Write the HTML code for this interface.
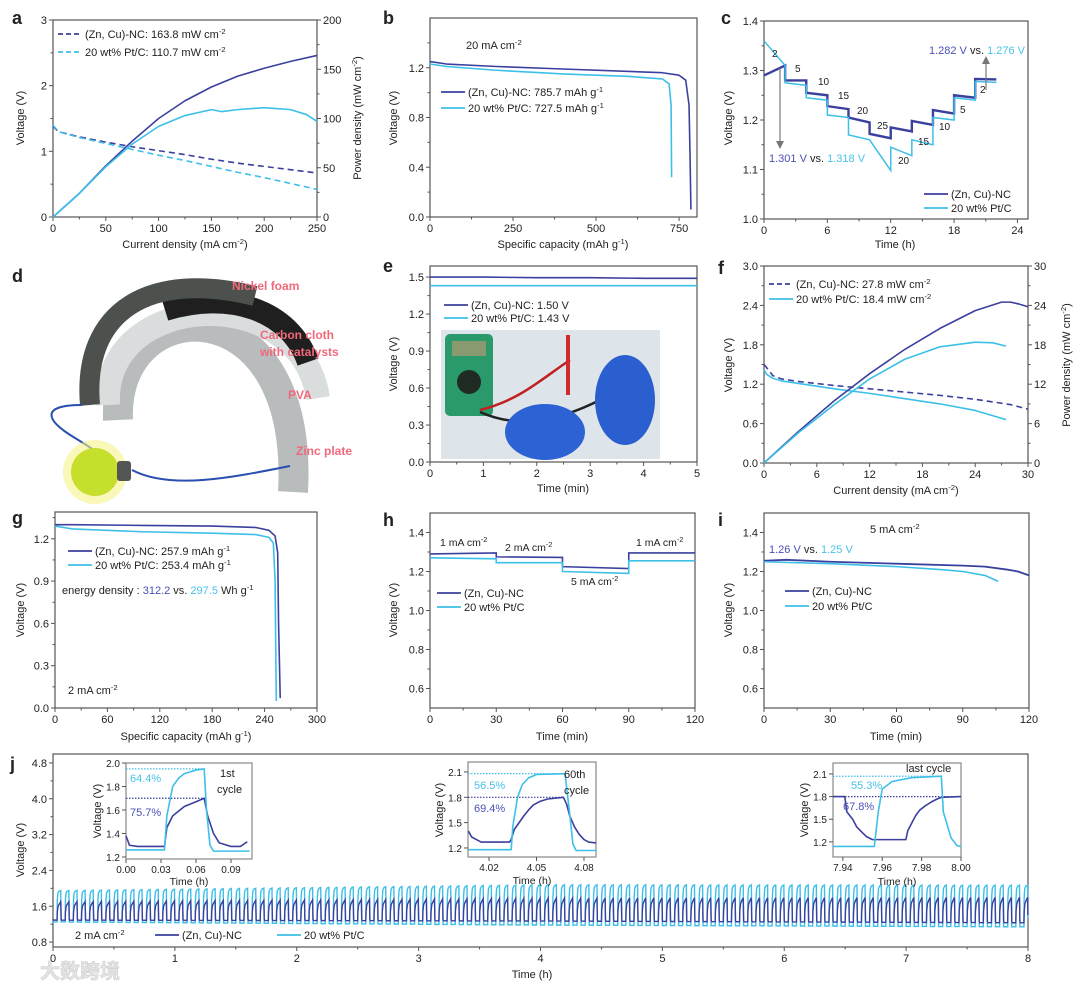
<!DOCTYPE html>
<html><head><meta charset="utf-8">
<style>body{margin:0;background:#fff}svg{display:block;font-family:"Liberation Sans","Noto Sans CJK SC",sans-serif}</style>
</head><body>
<svg id="fig" width="1080" height="991" viewBox="0 0 1080 991">
  <rect x="0" y="0" width="1080" height="991" fill="#fff"/>
  <g>
    <path d="M118 420 C112 290, 305 280, 293 492" fill="none" stroke="#b8bcbc" stroke-width="30"/>
    <path d="M108 405 C102 290, 300 280, 318 398" fill="none" stroke="#dadddd" stroke-width="24"/>
    <path d="M165 310 C230 290, 290 310, 308 362" fill="none" stroke="#1f1f1f" stroke-width="22"/>
    <path d="M90 405 C82 310, 150 270, 255 296" fill="none" stroke="#4d514d" stroke-width="20"/>
    <path d="M82 405 C40 405, 45 420, 75 438 C95 450, 105 458, 118 466" fill="none" stroke="#2a4fb0" stroke-width="2"/>
    <path d="M132 470 C170 490, 230 478, 290 466" fill="none" stroke="#2a4fb0" stroke-width="2"/>
    <circle cx="95" cy="472" r="32" fill="#f6f38a" opacity="0.6"/>
    <circle cx="95" cy="472" r="24" fill="#c6de2c"/>
    <rect x="117" y="461" width="14" height="20" rx="3" fill="#555"/>
    <g font-weight="bold" font-size="12" fill="#f0697b">
      <text x="232" y="290">Nickel foam</text>
      <text x="260" y="339">Carbon cloth</text>
      <text x="260" y="356">with catalysts</text>
      <text x="288" y="399">PVA</text>
      <text x="296" y="455">Zinc plate</text>
    </g>
  </g>
  <g>
    <rect x="441" y="330" width="219" height="129" fill="#dde4ea"/>
    <rect x="445" y="334" width="48" height="82" rx="5" fill="#2a9a6a"/>
    <rect x="452" y="341" width="34" height="15" fill="#8a9a70"/>
    <circle cx="469" cy="382" r="12" fill="#1e2a22"/>
    <path d="M480 410 C520 400, 540 380, 570 360" fill="none" stroke="#c02020" stroke-width="2.5"/>
    <path d="M480 412 C520 430, 560 420, 600 400" fill="none" stroke="#222" stroke-width="2.5"/>
    <rect x="566" y="335" width="4" height="60" fill="#d02a2a"/>
    <ellipse cx="625" cy="400" rx="30" ry="45" fill="#2b5fcf"/>
    <ellipse cx="545" cy="432" rx="40" ry="28" fill="#2d62d4"/>
  </g>
  <text x="40" y="978" font-size="20" font-weight="bold" fill="#e4e4e4" stroke="#cfcfcf" stroke-width="0.6">大数跨境</text>
</svg>
<script>
const NS='http://www.w3.org/2000/svg';
const svg=document.getElementById('fig');
const DB='#3b409e', LB='#3ebfe8', AX='#555', TX='#222';

// ---- panel a data
const aCurrent=[0,5,25,50,75,100,125,150,175,200,225,250];
const aVoltZn=[1.38,1.30,1.22,1.14,1.07,1.01,0.95,0.88,0.82,0.77,0.72,0.67];
const aVoltPt=[1.40,1.30,1.21,1.12,1.03,0.94,0.86,0.77,0.68,0.60,0.51,0.42];
const aPowZnX=[0,25,50,75,100,125,150,175,200,225,250];
const aPowZn=[0,24,52,77,100,118,132,143,151,158,164];
const aPowPtX=[0,25,50,75,100,125,150,160,175,200,225,240,250];
const aPowPt=[0,24,51,74,92,103,109,107,109,111,109,104,97];
// ---- panel b
const bCapZn=[0,50,200,400,600,700,750,770,780,783,785.7];
const bVoltZn=[1.25,1.23,1.21,1.19,1.17,1.16,1.14,1.10,0.9,0.5,0.06];
const bCapPt=[0,50,200,400,600,700,720,726,727.5];
const bVoltPt=[1.23,1.21,1.18,1.15,1.13,1.11,1.07,0.9,0.32];
// ---- panel c (steps)
const cTimes=[0,2,4,6,8,10,12,14,16,18,20,22];
const cCurrents=[2,5,10,15,20,25,20,15,10,5,2];
const cZnStart=[1.29,1.28,1.255,1.228,1.205,1.172,1.185,1.198,1.22,1.25,1.283];
const cZnEnd=[1.31,1.28,1.25,1.222,1.195,1.163,1.177,1.19,1.213,1.245,1.282];
const cPtStart=[1.36,1.275,1.245,1.21,1.17,1.16,1.145,1.16,1.205,1.245,1.278];
const cPtEnd=[1.31,1.27,1.24,1.205,1.16,1.098,1.128,1.15,1.20,1.24,1.276];
// ---- panel e
const eTime=[0,1,2,3,4,5];
const eVoltZn=[1.50,1.50,1.495,1.495,1.49,1.49];
const eVoltPt=[1.43,1.43,1.43,1.43,1.43,1.43];
// ---- panel f
const fCurZnV=[0,0.5,1,2,4,8,12,16,20,24,28,30];
const fVoltZn=[1.50,1.42,1.33,1.28,1.24,1.18,1.13,1.08,1.03,0.97,0.89,0.82];
const fCurPtV=[0,0.3,1,2,4,8,12,16,20,24,27.5];
const fVoltPt=[1.42,1.35,1.29,1.25,1.21,1.13,1.06,0.98,0.90,0.80,0.66];
const fCurZnP=[0,4,8,12,16,20,24,27,28,29,30];
const fPowZn=[0,4.9,9.5,13.6,17.3,20.5,23.2,24.5,24.5,24.2,23.8];
const fCurPtP=[0,4,8,12,16,20,24,26,27.5];
const fPowPt=[0,4.7,8.9,12.8,15.8,17.7,18.4,18.3,17.8];
// ---- panel g
const gCapZn=[0,20,100,180,230,245,252,255,256,257.9];
const gVoltZn=[1.30,1.30,1.295,1.29,1.28,1.26,1.22,1.10,0.6,0.07];
const gCapPt=[0,20,100,180,230,245,250,252,253.4];
const gVoltPt=[1.29,1.27,1.25,1.24,1.23,1.21,1.17,0.9,0.05];
// ---- panel h (steps)
const hTimes=[0,30,60,90,120];
const hZnStart=[1.29,1.275,1.225,1.295];
const hZnEnd=[1.295,1.272,1.215,1.295];
const hPtStart=[1.27,1.245,1.20,1.255];
const hPtEnd=[1.265,1.245,1.19,1.255];
// ---- panel i
const iTimeZn=[0,10,30,60,90,100,110,115,120];
const iVoltZn=[1.255,1.26,1.25,1.24,1.23,1.225,1.21,1.20,1.18];
const iTimePt=[0,30,60,80,90,100,106];
const iVoltPt=[1.25,1.24,1.225,1.21,1.20,1.18,1.15];
// ---- panel j main (cycle envelope checkpoints)
const jCycles=120;
const jCheckTimes=[0,4,8];
const jZnHigh=[1.70,1.78,1.80];
const jZnLow=[1.29,1.27,1.23];
const jPtHigh=[1.95,2.08,2.07];
const jPtLow=[1.25,1.18,1.14];
// ---- j insets
const in1Time=[0,0.003,0.01,0.033,0.035,0.04,0.05,0.06,0.067,0.07,0.075,0.08,0.09,0.098,0.104];
const in1Zn=[1.38,1.30,1.29,1.29,1.45,1.55,1.63,1.67,1.70,1.55,1.40,1.32,1.29,1.29,1.33];
const in1TimePt=[0,0.033,0.035,0.04,0.045,0.05,0.06,0.067,0.069,0.072,0.075,0.106];
const in1Pt=[1.26,1.26,1.55,1.80,1.87,1.91,1.94,1.95,1.60,1.30,1.25,1.25];
const in2Time=[4.007,4.009,4.012,4.015,4.033,4.034,4.036,4.039,4.042,4.045,4.048,4.052,4.057,4.067,4.069,4.071,4.074,4.077,4.080,4.083,4.0876];
const in2Zn=[1.40,1.33,1.30,1.27,1.27,1.30,1.42,1.50,1.58,1.65,1.71,1.75,1.78,1.80,1.72,1.58,1.45,1.36,1.30,1.27,1.26];
const in2TimePt=[4.007,4.034,4.035,4.038,4.041,4.045,4.05,4.068,4.071,4.073,4.075,4.0876];
const in2Pt=[1.18,1.18,1.45,1.80,1.95,2.03,2.07,2.08,1.60,1.25,1.17,1.17];
const in3Time=[7.935,7.941,7.942,7.945,7.947,7.95,7.952,7.955,7.972,7.973,7.975,7.977,7.979,7.982,7.985,7.988,7.990,8.0];
const in3Zn=[1.80,1.80,1.60,1.50,1.40,1.32,1.27,1.23,1.23,1.35,1.45,1.55,1.62,1.68,1.73,1.77,1.79,1.80];
const in3TimePt=[7.935,7.956,7.958,7.960,7.965,7.975,7.99,7.991,7.995,7.998,8.0];
const in3Pt=[1.14,1.14,1.60,1.90,2.00,2.05,2.07,1.60,1.25,1.15,1.14];

function el(tag,attrs,name,parent){
  const e=document.createElementNS(NS,tag);
  for(const k in attrs) e.setAttribute(k,attrs[k]);
  
  
  (parent||svg).appendChild(e);
  return e;
}
function T(x,y,s,o,name){
  o=o||{};
  const fs=o.fs||11;
  const t=el('text',{x:x,y:y,'font-size':fs,fill:o.c||TX,'text-anchor':o.a||'start'},name);
  if(o.w) t.setAttribute('font-weight',o.w);
  if(o.rot) t.setAttribute('transform','rotate('+o.rot+' '+x+' '+y+')');
  const parts=s.split(/\^\{([^}]*)\}/);
  parts.forEach((p,i)=>{
    if(!p) return;
    const ts=document.createElementNS(NS,'tspan');
    ts.textContent=p;
    if(i%2){ts.setAttribute('font-size',fs*0.7);ts.setAttribute('dy',-4);}
    else if(i>0){ts.setAttribute('dy',4);}
    t.appendChild(ts);
  });
  return t;
}
function TC(x,y,parts,o,name){
  o=o||{};
  const fs=o.fs||11;
  const t=el('text',{x:x,y:y,'font-size':fs,'text-anchor':o.a||'start'},name);
  parts.forEach(p=>{const ts=document.createElementNS(NS,'tspan');ts.textContent=p[0];ts.setAttribute('fill',p[1]);
    if(p[2]){ts.setAttribute('font-size',fs*0.7);ts.setAttribute('dy',-4);}
    t.appendChild(ts);});
  return t;
}
function range(a,b,s){const r=[];for(let v=a;v<=b+1e-9;v+=s)r.push(+v.toFixed(6));return r;}
function axis(name,box,xd,yd,xt,yt,o){
  o=o||{};
  const fs=o.fs||11;
  const g=el('g',{},name);
  const sx=v=>box.l+(v-xd[0])/(xd[1]-xd[0])*(box.r-box.l);
  const sy=v=>box.b-(v-yd[0])/(yd[1]-yd[0])*(box.b-box.t);
  if(o.bg) el('rect',{x:box.l,y:box.t,width:box.r-box.l,height:box.b-box.t,fill:'#fff'},name+'-bg',g);
  el('rect',{x:box.l,y:box.t,width:box.r-box.l,height:box.b-box.t,fill:'none',stroke:o.fc||AX,'stroke-width':1.2},name+'-frame',g);
  xt.v.forEach(v=>{
    const x=sx(v);
    el('line',{x1:x,x2:x,y1:box.b,y2:box.b+4,stroke:AX},name+'-x-tick',g);
    T(x,box.b+fs+4,xt.f(v),{fs:fs,a:'middle'},name+'-x-tick-label');
  });
  (xt.m||[]).forEach(v=>{const x=sx(v);el('line',{x1:x,x2:x,y1:box.b,y2:box.b+2.5,stroke:AX},name+'-x-minor-tick',g);});
  yt.v.forEach(v=>{
    const y=sy(v);
    el('line',{x1:box.l-4,x2:box.l,y1:y,y2:y,stroke:AX},name+'-y-tick',g);
    T(box.l-6,y+4,yt.f(v),{fs:fs,a:'end'},name+'-y-tick-label');
  });
  (yt.m||[]).forEach(v=>{const y=sy(v);el('line',{x1:box.l-2.5,x2:box.l,y1:y,y2:y,stroke:AX},name+'-y-minor-tick',g);});
  let sy2=null;
  if(o.y2){
    const d=o.y2.d;
    sy2=v=>box.b-(v-d[0])/(d[1]-d[0])*(box.b-box.t);
    o.y2.v.forEach(v=>{
      const y=sy2(v);
      el('line',{x1:box.r,x2:box.r+4,y1:y,y2:y,stroke:AX},name+'-y2-tick',g);
      T(box.r+6,y+4,o.y2.f(v),{fs:fs},name+'-y2-tick-label');
    });
    (o.y2.m||[]).forEach(v=>{const y=sy2(v);el('line',{x1:box.r,x2:box.r+2.5,y1:y,y2:y,stroke:AX},name+'-y2-minor-tick',g);});
  }
  return {sx:sx,sy:sy,sy2:sy2};
}
function plot(name,xs,ys,sx,sy,color,o){
  o=o||{};
  let d='';
  xs.forEach((x,i)=>{d+=(i?'L':'M')+sx(x).toFixed(2)+' '+sy(ys[i]).toFixed(2)+' ';});
  const p=el('path',{d:d,fill:'none',stroke:color,'stroke-width':o.w||1.6,'stroke-linejoin':'round'},name);
  if(o.dash) p.setAttribute('stroke-dasharray',o.dash);
  return p;
}
function stepPlot(name,times,starts,ends,sx,sy,color,w){
  let d='';
  for(let i=0;i<starts.length;i++){
    d+=(i?'L':'M')+sx(times[i]).toFixed(2)+' '+sy(starts[i]).toFixed(2)+' L'+sx(times[i+1]).toFixed(2)+' '+sy(ends[i]).toFixed(2)+' ';
  }
  el('path',{d:d,fill:'none',stroke:color,'stroke-width':w||1.6},name);
}
function leg(x,y,color,label,name,dash,fs){
  const l=el('line',{x1:x,x2:x+24,y1:y,y2:y,stroke:color,'stroke-width':1.8},name+'-line');
  if(dash) l.setAttribute('stroke-dasharray',dash);
  T(x+27,y+4,label,{fs:fs||11},name+'-label');
}
function ytitle(x,y,s,name){T(x,y,s,{a:'middle',rot:-90},name);}
function letter(x,y,s){T(x,y,s,{fs:18,w:'bold'},'panel-label-'+s);}
const f0=v=>String(v), f1=v=>v.toFixed(1), f2=v=>v.toFixed(2);

// ===== a
letter(12,24,'a');
const A=axis('panel-a',{l:53,r:317,t:20,b:217},[0,250],[0,3],{v:range(0,250,50),f:f0,m:range(25,225,50)},{v:[0,1,2,3],f:f0,m:[0.5,1.5,2.5]},{y2:{d:[0,200],v:range(0,200,50),f:f0,m:range(25,175,50)}});
plot('a-voltage-zn',aCurrent,aVoltZn,A.sx,A.sy,DB,{dash:'6,4'});
plot('a-voltage-pt',aCurrent,aVoltPt,A.sx,A.sy,LB,{dash:'6,4'});
plot('a-power-zn',aPowZnX,aPowZn,A.sx,A.sy2,DB);
plot('a-power-pt',aPowPtX,aPowPt,A.sx,A.sy2,LB);
leg(58,34,DB,'(Zn, Cu)-NC: 163.8 mW cm^{-2}','a-legend-zn','5,3');
leg(58,52,LB,'20 wt% Pt/C: 110.7 mW cm^{-2}','a-legend-pt','5,3');
ytitle(24,118,'Voltage (V)','a-y-title');
T(361,118,'Power density (mW cm^{-2})',{a:'middle',rot:-90},'a-y2-title');
T(185,248,'Current density (mA cm^{-2})',{a:'middle'},'a-x-title');

// ===== b
letter(383,24,'b');
const B=axis('panel-b',{l:430,r:697,t:18,b:217},[0,804],[0,1.6],{v:[0,250,500,750],f:f0,m:[125,375,625]},{v:[0,0.4,0.8,1.2],f:f1,m:[0.2,0.6,1.0,1.4]});
plot('b-discharge-zn',bCapZn,bVoltZn,B.sx,B.sy,DB);
plot('b-discharge-pt',bCapPt,bVoltPt,B.sx,B.sy,LB);
T(466,49,'20 mA cm^{-2}',{},'b-current-note');
leg(441,92,DB,'(Zn, Cu)-NC: 785.7 mAh g^{-1}','b-legend-zn');
leg(441,108,LB,'20 wt% Pt/C: 727.5  mAh g^{-1}','b-legend-pt');
ytitle(397,118,'Voltage (V)','b-y-title');
T(563,248,'Specific capacity (mAh g^{-1})',{a:'middle'},'b-x-title');

// ===== c
letter(721,24,'c');
const C=axis('panel-c',{l:764,r:1028,t:21,b:219},[0,25],[1.0,1.4],{v:range(0,24,6),f:f0,m:range(3,21,6)},{v:range(1.0,1.4,0.1),f:f1,m:range(1.05,1.35,0.1)});
stepPlot('c-rate-zn',cTimes,cZnStart,cZnEnd,C.sx,C.sy,DB,2.4);
stepPlot('c-rate-pt',cTimes,cPtStart,cPtEnd,C.sx,C.sy,LB,1.5);
const cLabelPos=[[772,57],[795,72],[818,85],[838,99],[857,114],[877,129],[898,164],[918,145],[939,130],[960,113],[980,93]];
cCurrents.forEach((c,i)=>{T(cLabelPos[i][0],cLabelPos[i][1],String(c),{fs:10},'c-current-label');});
el('line',{x1:780,x2:780,y1:68,y2:143,stroke:'#777','stroke-width':1.2},'c-arrow-down');
el('path',{d:'M776 141 L780 149 L784 141 Z',fill:'#777'},'c-arrowhead-down');
el('line',{x1:986,x2:986,y1:90,y2:62,stroke:'#777','stroke-width':1.2},'c-arrow-up');
el('path',{d:'M982 64 L986 56 L990 64 Z',fill:'#777'},'c-arrowhead-up');
TC(769,162,[['1.301 V ','#4a50b8'],['vs. ',TX],['1.318 V','#49c2ea']],{},'c-initial-voltage-note');
TC(1025,54,[['1.282 V ','#4a50b8'],['vs. ',TX],['1.276 V','#49c2ea']],{a:'end'},'c-final-voltage-note');
leg(924,194,DB,'(Zn, Cu)-NC','c-legend-zn');
leg(924,208,LB,'20 wt% Pt/C','c-legend-pt');
ytitle(732,118,'Voltage (V)','c-y-title');
T(895,248,'Time (h)',{a:'middle'},'c-x-title');

// ===== d / e
letter(12,282,'d');
letter(383,272,'e');
const E=axis('panel-e',{l:430,r:697,t:266,b:462},[0,5],[0,1.59],{v:range(0,5,1),f:f0,m:range(0.5,4.5,1)},{v:range(0,1.5,0.3),f:f1,m:range(0.15,1.35,0.3)});
plot('e-ocv-zn',eTime,eVoltZn,E.sx,E.sy,DB);
plot('e-ocv-pt',eTime,eVoltPt,E.sx,E.sy,LB);
leg(444,305,DB,'(Zn, Cu)-NC: 1.50 V','e-legend-zn');
leg(444,318,LB,'20 wt% Pt/C: 1.43 V','e-legend-pt');
ytitle(397,364,'Voltage (V)','e-y-title');
T(563,492,'Time (min)',{a:'middle'},'e-x-title');

// ===== f
letter(718,274,'f');
const F=axis('panel-f',{l:764,r:1028,t:266,b:463},[0,30],[0,3],{v:range(0,30,6),f:f0,m:range(3,27,6)},{v:range(0,3,0.6),f:f1,m:range(0.3,2.7,0.6)},{y2:{d:[0,30],v:range(0,30,6),f:f0,m:range(3,27,6)}});
plot('f-voltage-zn',fCurZnV,fVoltZn,F.sx,F.sy,DB,{dash:'6,4'});
plot('f-voltage-pt',fCurPtV,fVoltPt,F.sx,F.sy,LB);
plot('f-power-zn',fCurZnP,fPowZn,F.sx,F.sy2,DB);
plot('f-power-pt',fCurPtP,fPowPt,F.sx,F.sy2,LB);
leg(769,284,DB,'(Zn, Cu)-NC: 27.8 mW cm^{-2}','f-legend-zn','5,3');
leg(769,299,LB,'20 wt% Pt/C: 18.4  mW cm^{-2}','f-legend-pt');
ytitle(732,365,'Voltage (V)','f-y-title');
T(1070,365,'Power density (mW cm^{-2})',{a:'middle',rot:-90},'f-y2-title');
T(896,494,'Current density (mA cm^{-2})',{a:'middle'},'f-x-title');

// ===== g
letter(12,524,'g');
const G=axis('panel-g',{l:55,r:317,t:512,b:708},[0,300],[0,1.39],{v:range(0,300,60),f:f0,m:range(30,270,60)},{v:range(0,1.2,0.3),f:f1,m:range(0.15,1.35,0.3)});
plot('g-discharge-zn',gCapZn,gVoltZn,G.sx,G.sy,DB);
plot('g-discharge-pt',gCapPt,gVoltPt,G.sx,G.sy,LB);
leg(68,551,DB,'(Zn, Cu)-NC: 257.9 mAh g^{-1}','g-legend-zn');
leg(68,565,LB,'20 wt% Pt/C: 253.4  mAh g^{-1}','g-legend-pt');
TC(62,594,[['energy density : ',TX],['312.2','#4a50b8'],[' vs. ',TX],['297.5','#49c2ea'],[' Wh g',TX],['-1',TX,true]],{},'g-energy-density-note');
T(68,694,'2 mA cm^{-2}',{},'g-current-note');
ytitle(24,610,'Voltage (V)','g-y-title');
T(186,740,'Specific capacity (mAh g^{-1})',{a:'middle'},'g-x-title');

// ===== h
letter(383,526,'h');
const H=axis('panel-h',{l:430,r:695,t:513,b:708},[0,120],[0.5,1.5],{v:range(0,120,30),f:f0,m:range(15,105,30)},{v:range(0.6,1.4,0.2),f:f1,m:range(0.7,1.3,0.2)});
stepPlot('h-rate-zn',hTimes,hZnStart,hZnEnd,H.sx,H.sy,DB,1.6);
stepPlot('h-rate-pt',hTimes,hPtStart,hPtEnd,H.sx,H.sy,LB,1.6);
T(440,546,'1 mA cm^{-2}',{fs:10.5},'h-label-1ma');
T(505,551,'2 mA cm^{-2}',{fs:10.5},'h-label-2ma');
T(571,585,'5 mA cm^{-2}',{fs:10.5},'h-label-5ma');
T(636,546,'1 mA cm^{-2}',{fs:10.5},'h-label-1ma-end');
leg(437,593,DB,'(Zn, Cu)-NC','h-legend-zn');
leg(437,607,LB,'20 wt% Pt/C','h-legend-pt');
ytitle(397,610,'Voltage (V)','h-y-title');
T(562,740,'Time (min)',{a:'middle'},'h-x-title');

// ===== i
letter(718,526,'i');
const I=axis('panel-i',{l:764,r:1029,t:513,b:708},[0,120],[0.5,1.5],{v:range(0,120,30),f:f0,m:range(15,105,30)},{v:range(0.6,1.4,0.2),f:f1,m:range(0.7,1.3,0.2)});
plot('i-discharge-zn',iTimeZn,iVoltZn,I.sx,I.sy,DB,{w:1.8});
plot('i-discharge-pt',iTimePt,iVoltPt,I.sx,I.sy,LB);
T(870,533,'5 mA cm^{-2}',{},'i-current-note');
TC(769,553,[['1.26 V ','#4a50b8'],['vs. ',TX],['1.25 V','#49c2ea']],{},'i-voltage-note');
leg(785,591,DB,'(Zn, Cu)-NC','i-legend-zn');
leg(785,606,LB,'20 wt% Pt/C','i-legend-pt');
ytitle(732,610,'Voltage (V)','i-y-title');
T(896,740,'Time (min)',{a:'middle'},'i-x-title');

// ===== j main
letter(10,770,'j');
const J=axis('panel-j',{l:53,r:1028,t:754,b:947},[0,8],[0.69,5.0],{v:range(0,8,1),f:f0,m:range(0.5,7.5,1)},{v:range(0.8,4.8,0.8),f:f1,m:range(1.2,4.4,0.8)});
function interp(ts,vs,t){for(let i=0;i<ts.length-1;i++){if(t<=ts[i+1]){const r=(t-ts[i])/(ts[i+1]-ts[i]);return vs[i]+r*(vs[i+1]-vs[i]);}}return vs[vs.length-1];}
function cycleSeries(name,lows,highs,color,fast){
  const P=8/jCycles;let d='';
  for(let k=0;k<jCycles;k++){
    const t0=k*P, lo=interp(jCheckTimes,lows,t0), hi=interp(jCheckTimes,highs,t0), dv=hi-lo;
    const pts=fast?[[0,lo],[0.5,lo],[0.53,lo+0.7*dv],[0.6,lo+0.92*dv],[0.75,lo+0.98*dv],[0.95,hi],[0.99,lo+0.2*dv]]
                  :[[0,lo+0.05*dv],[0.06,lo],[0.5,lo],[0.53,lo+0.45*dv],[0.62,lo+0.75*dv],[0.8,lo+0.9*dv],[0.95,hi],[0.99,lo+0.3*dv]];
    pts.forEach((p,i)=>{d+=((k===0&&i===0)?'M':'L')+J.sx(t0+p[0]*P).toFixed(2)+' '+J.sy(p[1]).toFixed(2)+' ';});
  }
  el('path',{d:d,fill:'none',stroke:color,'stroke-width':1.4},name);
}
cycleSeries('j-cycling-pt',jPtLow,jPtHigh,LB,true);
cycleSeries('j-cycling-zn',jZnLow,jZnHigh,DB,false);
T(75,939,'2 mA cm^{-2}',{},'j-current-note');
leg(155,935,DB,'(Zn, Cu)-NC','j-legend-zn');
leg(277,935,LB,'20 wt% Pt/C','j-legend-pt');
ytitle(24,850,'Voltage (V)','j-y-title');
T(532,978,'Time (h)',{a:'middle'},'j-x-title');

// insets
function dotted(name,sx,sy,x0,x1,v,color){el('line',{x1:sx(x0),x2:sx(x1),y1:sy(v),y2:sy(v),stroke:color,'stroke-width':1.2,'stroke-dasharray':'1.5,1.5'},name);}
const N1=axis('inset-1st-cycle',{l:126,r:252,t:763,b:859},[0,0.108],[1.183,2.0],{v:[0,0.03,0.06,0.09],f:f2},{v:range(1.2,2.0,0.2),f:f1},{fs:10,bg:true,fc:'#888'});
dotted('inset1-ref-pt',N1.sx,N1.sy,0,0.067,1.95,LB);
dotted('inset1-ref-zn',N1.sx,N1.sy,0,0.067,1.70,DB);
plot('inset1-zn',in1Time,in1Zn,N1.sx,N1.sy,DB);
plot('inset1-pt',in1TimePt,in1Pt,N1.sx,N1.sy,LB);
T(130,782,'64.4%',{fs:11,c:'#49c2ea'},'inset1-eff-pt');
T(130,816,'75.7%',{fs:11,c:'#4a50b8'},'inset1-eff-zn');
T(220,777,'1st',{fs:11},'inset1-cycle-label');
T(217,793,'cycle',{fs:11},'inset1-cycle-label-2');
ytitle(101,811,'Voltage (V)','inset1-y-title');
T(189,885,'Time (h)',{a:'middle',fs:10.5},'inset1-x-title');

const N2=axis('inset-60th-cycle',{l:468,r:596,t:762,b:857},[4.0067,4.0876],[1.093,2.218],{v:[4.02,4.05,4.08],f:f2},{v:[1.2,1.5,1.8,2.1],f:f1},{fs:10,bg:true,fc:'#888'});
dotted('inset2-ref-pt',N2.sx,N2.sy,4.0067,4.068,2.08,LB);
dotted('inset2-ref-zn',N2.sx,N2.sy,4.0067,4.067,1.80,DB);
plot('inset2-zn',in2Time,in2Zn,N2.sx,N2.sy,DB);
plot('inset2-pt',in2TimePt,in2Pt,N2.sx,N2.sy,LB);
T(474,789,'56.5%',{fs:11,c:'#49c2ea'},'inset2-eff-pt');
T(474,812,'69.4%',{fs:11,c:'#4a50b8'},'inset2-eff-zn');
T(564,778,'60th',{fs:11},'inset2-cycle-label');
T(564,794,'cycle',{fs:11},'inset2-cycle-label-2');
ytitle(443,810,'Voltage (V)','inset2-y-title');
T(532,884,'Time (h)',{a:'middle',fs:10.5},'inset2-x-title');

const N3=axis('inset-last-cycle',{l:833,r:961,t:763,b:857},[7.935,8.0],[1.0,2.245],{v:[7.94,7.96,7.98,8.0],f:f2},{v:[1.2,1.5,1.8,2.1],f:f1},{fs:10,bg:true,fc:'#888'});
dotted('inset3-ref-pt',N3.sx,N3.sy,7.935,7.99,2.07,LB);
dotted('inset3-ref-zn',N3.sx,N3.sy,7.935,8.0,1.80,DB);
plot('inset3-zn',in3Time,in3Zn,N3.sx,N3.sy,DB);
plot('inset3-pt',in3TimePt,in3Pt,N3.sx,N3.sy,LB);
T(906,772,'last cycle',{fs:11},'inset3-cycle-label');
T(851,789,'55.3%',{fs:11,c:'#49c2ea'},'inset3-eff-pt');
T(843,810,'67.8%',{fs:11,c:'#4a50b8'},'inset3-eff-zn');
ytitle(808,810,'Voltage (V)','inset3-y-title');
T(897,885,'Time (h)',{a:'middle',fs:10.5},'inset3-x-title');
</script>
</body></html>
